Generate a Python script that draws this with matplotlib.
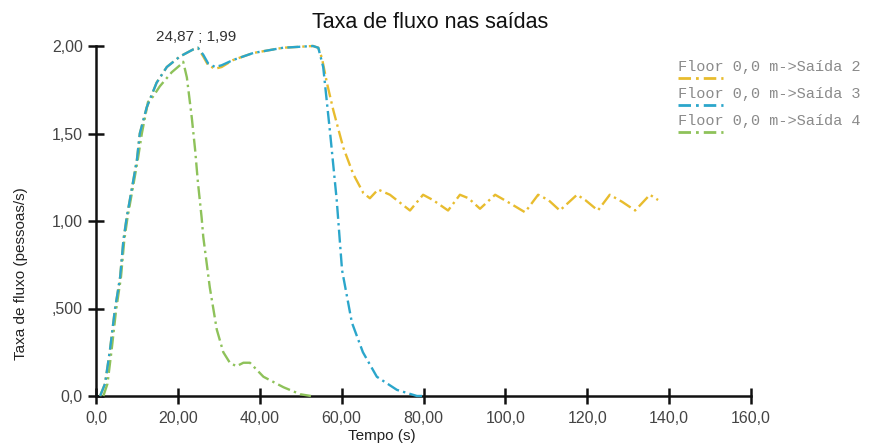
import matplotlib
matplotlib.use("Agg")
import matplotlib.pyplot as plt
from matplotlib.lines import Line2D

# Flow rate per exit (people/s) over time (s)
t_saida2 = [1.0, 2.2, 3.4, 4.6, 5.9, 6.7, 7.5, 8.8, 10.0, 10.7, 12.4, 14.8, 17.3, 20.5,
            23.7, 24.87, 26.2, 27.4, 29.1, 30.7, 33.5, 38.4, 45.7, 53.0, 54.3, 55.2,
            56.4, 58.0, 60.4, 62.8, 65.3, 66.9, 68.9, 71.8, 76.7, 79.9, 82.3, 86.0,
            88.9, 91.0, 93.8, 97.5, 100.5, 104.8, 108.0, 110.5, 113.3, 117.5, 119.5,
            122.6, 125.5, 128.5, 131.7, 135.3, 137.3]
y_saida2 = [0.0, 0.07, 0.26, 0.49, 0.68, 0.89, 1.02, 1.19, 1.35, 1.50, 1.65, 1.79, 1.88, 1.94,
            1.98, 1.99, 1.94, 1.89, 1.87, 1.88, 1.92, 1.96, 1.99, 2.0, 1.99, 1.93,
            1.79, 1.63, 1.42, 1.27, 1.16, 1.13, 1.18, 1.15, 1.06, 1.15, 1.12, 1.06,
            1.15, 1.13, 1.07, 1.15, 1.11, 1.05, 1.15, 1.12, 1.06, 1.15, 1.12,
            1.06, 1.15, 1.11, 1.06, 1.15, 1.12]

t_saida3 = [1.0, 2.2, 3.4, 4.6, 5.9, 6.7, 7.5, 8.8, 10.0, 10.7, 12.4, 14.8, 17.3, 20.5,
            23.7, 24.87, 26.2, 27.4, 29.1, 30.7, 33.5, 38.4, 45.7, 53.0, 54.3, 55.5,
            57.2, 58.8, 60.1, 62.5, 65.2, 68.6, 73.5, 78.4, 80.0]
y_saida3 = [0.0, 0.07, 0.26, 0.49, 0.68, 0.89, 1.02, 1.19, 1.35, 1.50, 1.65, 1.79, 1.88, 1.94,
            1.98, 1.99, 1.95, 1.90, 1.88, 1.89, 1.92, 1.96, 1.99, 2.0, 1.99, 1.88,
            1.50, 1.12, 0.72, 0.42, 0.25, 0.11, 0.035, 0.0, 0.0]

t_saida4 = [1.8, 2.8, 3.8, 4.9, 6.1, 6.9, 7.7, 9.0, 10.2, 11.2, 12.7, 13.9, 15.6, 18.5,
            21.0, 21.3, 22.2, 23.4, 24.2, 24.9, 25.8, 26.2, 27.8, 29.5, 31.1, 32.7,
            34.3, 36.0, 37.6, 40.9, 45.8, 49.9, 52.5]
y_saida4 = [0.0, 0.07, 0.26, 0.49, 0.68, 0.89, 1.02, 1.19, 1.35, 1.50, 1.68, 1.71, 1.77, 1.85,
            1.90, 1.91, 1.82, 1.59, 1.41, 1.22, 1.02, 0.91, 0.62, 0.38, 0.25, 0.19,
            0.17, 0.19, 0.19, 0.11, 0.05, 0.01, 0.0]

series_labels = ["Floor 0,0 m->Saída 2", "Floor 0,0 m->Saída 3", "Floor 0,0 m->Saída 4"]
series_colors = ["#E8BC2E", "#2BA6CB", "#8EC25A"]

x_ticks = [0, 20, 40, 60, 80, 100, 120, 140, 160]
x_ticklabels = ["0,0", "20,00", "40,00", "60,00", "80,00", "100,0", "120,0", "140,0", "160,0"]
y_ticks = [0, 0.5, 1.0, 1.5, 2.0]
y_ticklabels = ["0,0", ",500", "1,00", "1,50", "2,00"]

peak_x, peak_y = 24.87, 1.99

W, H = 872, 446
fig = plt.figure(figsize=(W / 100, H / 100), dpi=100)
plt.rcParams["font.family"] = ["Liberation Sans", "DejaVu Sans"]

ax = fig.add_axes([96 / W, 1 - 396 / H, (751 - 96) / W, (396 - 46) / H])
ax.set_xlim(0, 160)
ax.set_ylim(0, 2.0)

dash = (0, (5.5, 1.8, 1.0, 1.8))
for t, y, c in [(t_saida4, y_saida4, series_colors[2]),
                (t_saida2, y_saida2, series_colors[0]),
                (t_saida3, y_saida3, series_colors[1])]:
    ax.plot(t, y, color=c, lw=1.7, linestyle=dash, clip_on=False, zorder=3,
            solid_capstyle="butt", dash_capstyle="butt")

for s in ["top", "right"]:
    ax.spines[s].set_visible(False)
for s in ["left", "bottom"]:
    ax.spines[s].set_linewidth(1.8)
    ax.spines[s].set_color("#111111")

ax.set_xticks(x_ticks)
ax.set_xticklabels(x_ticklabels)
ax.set_yticks(y_ticks)
ax.set_yticklabels(y_ticklabels)
ax.tick_params(axis="both", direction="inout", length=11, width=1.8, color="#111111",
               labelsize=11.5, labelcolor="#444444")
ax.tick_params(axis="x", pad=5)
ax.tick_params(axis="y", pad=4)

ax.set_xlabel("Tempo (s)", fontsize=11, color="#222222")
ax.xaxis.set_label_coords((382 - 96) / (751 - 96), -0.095)
ax.set_ylabel("Taxa de fluxo (pessoas/s)", fontsize=11, color="#222222")
ax.yaxis.set_label_coords(-0.104, 0.35)

fig.text(430 / W, 1 - 22 / H, "Taxa de fluxo nas saídas", ha="center", va="center",
         fontsize=15.5, color="#111111")

ax.annotate(f"{peak_x:.2f} ; {peak_y:.2f}".replace(".", ","), xy=(peak_x, peak_y),
            xytext=(-1, 3), textcoords="offset points", ha="center", va="bottom",
            fontsize=11, color="#333333")

# Legend: monospace labels with a dash-dot swatch under "Floor"
for i, (lab, c) in enumerate(zip(series_labels, series_colors)):
    ty = 67 + 27 * i
    fig.text(678 / W, 1 - ty / H, lab, ha="left", va="center", fontsize=11,
             family=["Liberation Mono", "DejaVu Sans Mono"], color="#8a8a8a")
    ly = 1 - (ty + 11) / H
    fig.add_artist(Line2D([678 / W, 723 / W], [ly, ly], transform=fig.transFigure,
                          color=c, lw=2.0, linestyle=(0, (4.5, 1.8, 1.0, 1.8))))

fig.savefig("out.png", dpi=100, facecolor="white")
